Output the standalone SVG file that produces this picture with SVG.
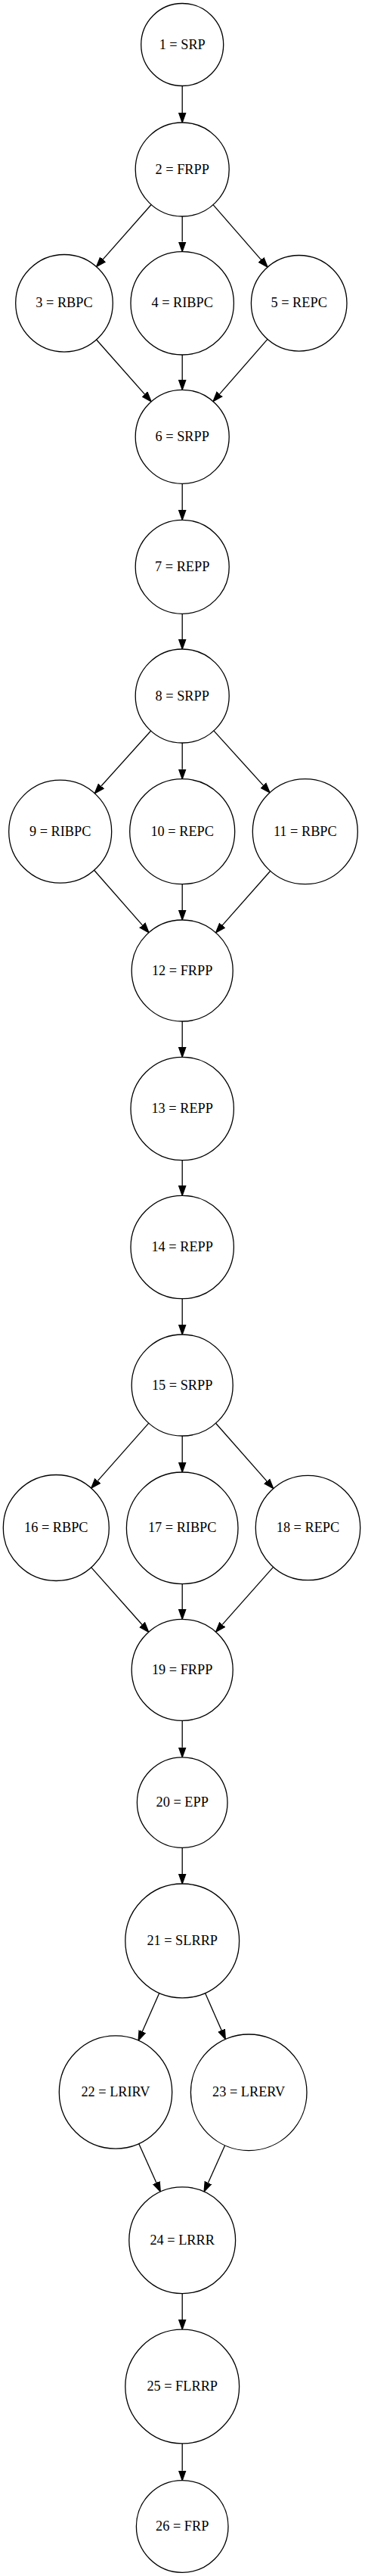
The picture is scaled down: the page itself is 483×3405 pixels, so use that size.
<svg xmlns="http://www.w3.org/2000/svg" width="483" height="3405" viewBox="0 0 483 3405">
<style>
.n circle{fill:#fff;stroke:#000;stroke-width:1.3}
.n text{font-family:"Liberation Serif",Times,serif;font-size:18.3px;text-anchor:middle;fill:#000}
.e line{stroke:#000;stroke-width:1.3;fill:none}
</style>
<defs>
<marker id="ah" markerUnits="userSpaceOnUse" markerWidth="16" markerHeight="12" refX="0" refY="6" orient="auto" viewBox="0 0 16 12">
<path d="M0,1.4 L13,6 L0,10.6 Z" fill="#000" stroke="#000" stroke-width="1.3"/>
</marker>
</defs>
<rect width="483" height="3405" fill="#fff"/>
<g id="edges" class="e">
<line x1="241.2" y1="113.5" x2="241.2" y2="149" marker-end="url(#ah)"/>
<line x1="200.15" y1="270.47" x2="136.18" y2="342.87" marker-end="url(#ah)"/>
<line x1="241.2" y1="286" x2="241.2" y2="319.6" marker-end="url(#ah)"/>
<line x1="282" y1="270.69" x2="345.5" y2="343.35" marker-end="url(#ah)"/>
<line x1="127.61" y1="448.95" x2="191.49" y2="521.14" marker-end="url(#ah)"/>
<line x1="241.2" y1="469" x2="241.2" y2="502.3" marker-end="url(#ah)"/>
<line x1="354.01" y1="448.43" x2="290.6" y2="520.87" marker-end="url(#ah)"/>
<line x1="241.2" y1="639.3" x2="241.2" y2="674.3" marker-end="url(#ah)"/>
<line x1="241.2" y1="811.3" x2="241.2" y2="845" marker-end="url(#ah)"/>
<line x1="199.69" y1="966.05" x2="133.93" y2="1039.03" marker-end="url(#ah)"/>
<line x1="241.2" y1="982" x2="241.2" y2="1016.7" marker-end="url(#ah)"/>
<line x1="282.86" y1="965.92" x2="348.36" y2="1038.1" marker-end="url(#ah)"/>
<line x1="124.59" y1="1150.28" x2="188.39" y2="1222.9" marker-end="url(#ah)"/>
<line x1="241.2" y1="1168.7" x2="241.2" y2="1203" marker-end="url(#ah)"/>
<line x1="357.75" y1="1151.26" x2="294.2" y2="1223.08" marker-end="url(#ah)"/>
<line x1="241.2" y1="1350" x2="241.2" y2="1384.3" marker-end="url(#ah)"/>
<line x1="241.2" y1="1533.7" x2="241.2" y2="1567.3" marker-end="url(#ah)"/>
<line x1="241.2" y1="1716.7" x2="241.2" y2="1751" marker-end="url(#ah)"/>
<line x1="196.79" y1="1881.16" x2="129.32" y2="1957.36" marker-end="url(#ah)"/>
<line x1="241.2" y1="1898" x2="241.2" y2="1933" marker-end="url(#ah)"/>
<line x1="285.53" y1="1881.24" x2="353.12" y2="1957.86" marker-end="url(#ah)"/>
<line x1="120.8" y1="2071.83" x2="188.05" y2="2147.5" marker-end="url(#ah)"/>
<line x1="241.2" y1="2093.6" x2="241.2" y2="2127.3" marker-end="url(#ah)"/>
<line x1="361.63" y1="2071.31" x2="294.23" y2="2147.41" marker-end="url(#ah)"/>
<line x1="241.2" y1="2274.3" x2="241.2" y2="2309.8" marker-end="url(#ah)"/>
<line x1="241.2" y1="2442.4" x2="241.2" y2="2477" marker-end="url(#ah)"/>
<line x1="210.79" y1="2634.4" x2="188.37" y2="2685.24" marker-end="url(#ah)"/>
<line x1="271.52" y1="2634.44" x2="293.09" y2="2683.58" marker-end="url(#ah)"/>
<line x1="183.69" y1="2833.6" x2="206.93" y2="2885.17" marker-end="url(#ah)"/>
<line x1="297.67" y1="2835.83" x2="275.45" y2="2885.16" marker-end="url(#ah)"/>
<line x1="241.2" y1="3031.6" x2="241.2" y2="3066.1" marker-end="url(#ah)"/>
<line x1="241.2" y1="3229.9" x2="241.2" y2="3265.7" marker-end="url(#ah)"/>
</g>
<g id="node1" class="n"><circle cx="241.2" cy="59" r="54.5"/><text x="241.2" y="64.5">1 = SRP</text></g>
<g id="node2" class="n"><circle cx="241.2" cy="224" r="62"/><text x="241.2" y="229.5">2 = FRPP</text></g>
<g id="node3" class="n"><circle cx="85" cy="400.8" r="64.3"/><text x="85" y="406.3">3 = RBPC</text></g>
<g id="node4" class="n"><circle cx="241.2" cy="400.8" r="68.2"/><text x="241.2" y="406.3">4 = RIBPC</text></g>
<g id="node5" class="n"><circle cx="395.7" cy="400.8" r="63.3"/><text x="395.7" y="406.3">5 = REPC</text></g>
<g id="node6" class="n"><circle cx="241.2" cy="577.3" r="62"/><text x="241.2" y="582.8">6 = SRPP</text></g>
<g id="node7" class="n"><circle cx="241.2" cy="749.3" r="62"/><text x="241.2" y="754.8">7 = REPP</text></g>
<g id="node8" class="n"><circle cx="241.2" cy="920" r="62"/><text x="241.2" y="925.5">8 = SRPP</text></g>
<g id="node9" class="n"><circle cx="79.7" cy="1099.2" r="68"/><text x="79.7" y="1104.7">9 = RIBPC</text></g>
<g id="node10" class="n"><circle cx="241.2" cy="1099.2" r="69.5"/><text x="241.2" y="1104.7">10 = REPC</text></g>
<g id="node11" class="n"><circle cx="403.8" cy="1099.2" r="69.5"/><text x="403.8" y="1104.7">11 = RBPC</text></g>
<g id="node12" class="n"><circle cx="241.2" cy="1283" r="67"/><text x="241.2" y="1288.5">12 = FRPP</text></g>
<g id="node13" class="n"><circle cx="241.2" cy="1465.5" r="68.2"/><text x="241.2" y="1471">13 = REPP</text></g>
<g id="node14" class="n"><circle cx="241.2" cy="1648.5" r="68.2"/><text x="241.2" y="1654">14 = REPP</text></g>
<g id="node15" class="n"><circle cx="241.2" cy="1831" r="67"/><text x="241.2" y="1836.5">15 = SRPP</text></g>
<g id="node16" class="n"><circle cx="74.3" cy="2019.5" r="70"/><text x="74.3" y="2025">16 = RBPC</text></g>
<g id="node17" class="n"><circle cx="241.2" cy="2019.8" r="73.8"/><text x="241.2" y="2025.3">17 = RIBPC</text></g>
<g id="node18" class="n"><circle cx="407.5" cy="2019.5" r="69.2"/><text x="407.5" y="2025">18 = REPC</text></g>
<g id="node19" class="n"><circle cx="241.2" cy="2207.3" r="67"/><text x="241.2" y="2212.8">19 = FRPP</text></g>
<g id="node20" class="n"><circle cx="241.2" cy="2382.6" r="59.8"/><text x="241.2" y="2388.1">20 = EPP</text></g>
<g id="node21" class="n"><circle cx="241.2" cy="2565.4" r="75.4"/><text x="241.2" y="2570.9">21 = SLRRP</text></g>
<g id="node22" class="n"><circle cx="153" cy="2765.5" r="74.7"/><text x="153" y="2771">22 = LRIRV</text></g>
<g id="node23" class="n"><circle cx="329.2" cy="2765.8" r="76.8"/><text x="329.2" y="2771.3">23 = LRERV</text></g>
<g id="node24" class="n"><circle cx="241.2" cy="2961.2" r="70.4"/><text x="241.2" y="2966.7">24 = LRRR</text></g>
<g id="node25" class="n"><circle cx="241.2" cy="3154.5" r="75.4"/><text x="241.2" y="3160">25 = FLRRP</text></g>
<g id="node26" class="n"><circle cx="241.2" cy="3339.5" r="60.8"/><text x="241.2" y="3345">26 = FRP</text></g>
</svg>
